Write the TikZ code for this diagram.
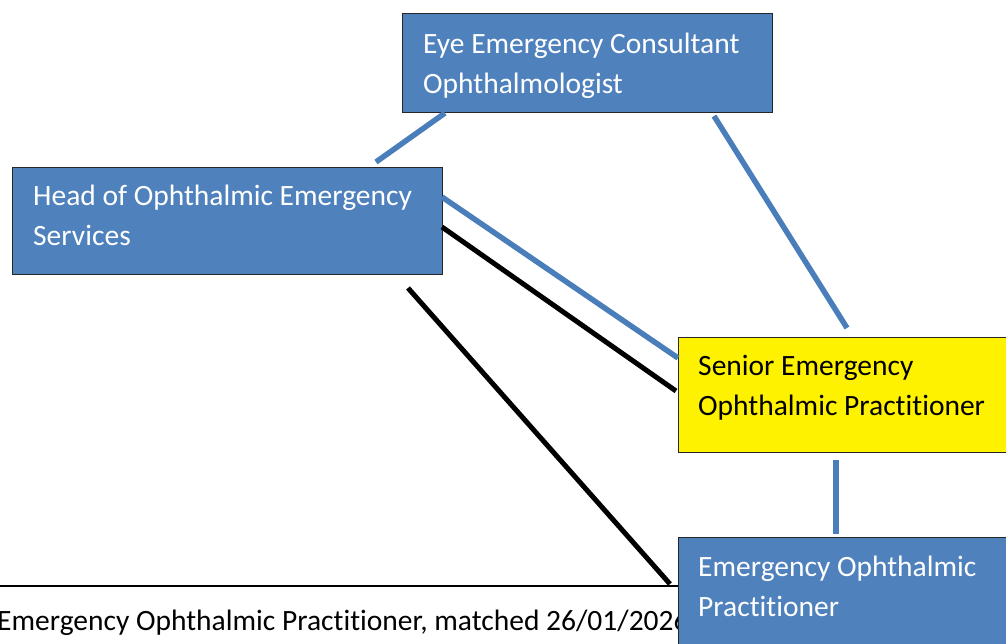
\documentclass[tikz,border=0pt]{standalone}
\usepackage{fontspec}
\setmainfont[Ligatures={NoCommon,NoRequired,NoContextual}]{Carlito}
\usetikzlibrary{calc}
\definecolor{boxblue}{HTML}{4F81BD}
\definecolor{lineblue}{HTML}{4A7EBB}
\newcommand\twolines[2]{\begin{tabular}[t]{@{}l@{}}#1\\#2\end{tabular}}
\tikzset{
  orgbox/.style={draw=black!85, line width=1.3pt, fill=boxblue, rectangle, inner sep=0pt, anchor=north west},
  yellowbox/.style={orgbox, fill=yellow},
  boxtext/.style={anchor=base west, inner sep=0pt, font=\fontsize{29.5}{40}\selectfont},
  whitetext/.style={boxtext, text=white},
  blueline/.style={draw=lineblue, line width=5.5pt},
  blackline/.style={draw=black, line width=5pt}
}
\begin{document}
\begin{tikzpicture}[x=1pt,y=-1pt]
\useasboundingbox (0,0) rectangle (1006,643);
\clip (0,0) rectangle (1006,643);
% bottom line and text
\coordinate (hl0) at (0,586);
\coordinate (hl1) at (680,586);
\draw[line width=1.6pt] (hl0) -- (hl1);
\node[boxtext] (foot) at (-3,630) {Emergency Ophthalmic Practitioner, matched 26/01/2026};
% boxes
\node[orgbox, minimum width=370pt, minimum height=99pt] (cons) at (402,13) {};
\node[orgbox, minimum width=430pt, minimum height=107pt] (head) at (12,167) {};
\node[yellowbox, minimum width=340pt, minimum height=115pt] (senior) at (678,337) {};
\node[orgbox, minimum width=340pt, minimum height=120pt] (eop) at (678,537) {};
% texts
\node[whitetext] (consT) at (423,53) {\twolines{Eye Emergency Consultant}{Ophthalmologist}};
\node[whitetext] (headT) at (33,205) {\twolines{Head of Ophthalmic Emergency}{Services}};
\node[boxtext] (seniorT) at (698,375) {\twolines{Senior Emergency}{Ophthalmic Practitioner}};
\node[whitetext] (eopT) at (698,576) {\twolines{Emergency Ophthalmic}{Practitioner}};
% connector end points
\coordinate (c1a) at (445,113);
\coordinate (c1b) at (376,162);
\coordinate (c2a) at (714,116);
\coordinate (c2b) at (847,328);
\coordinate (c3a) at (442,197);
\coordinate (c3b) at (678,358);
\coordinate (c4a) at (442,227);
\coordinate (c4b) at (676,391);
\coordinate (c5a) at (408,288);
\coordinate (c5b) at (670,584);
\coordinate (c6a) at (836,460);
\coordinate (c6b) at (836,534);
% connectors
\draw[blueline] (c1a) -- (c1b);
\draw[blueline] (c2a) -- (c2b);
\draw[blueline] (c3a) -- (c3b);
\draw[blackline] (c4a) -- (c4b);
\draw[blackline] (c5a) -- (c5b);
\draw[blueline] (c6a) -- (c6b);
\end{tikzpicture}
\end{document}
